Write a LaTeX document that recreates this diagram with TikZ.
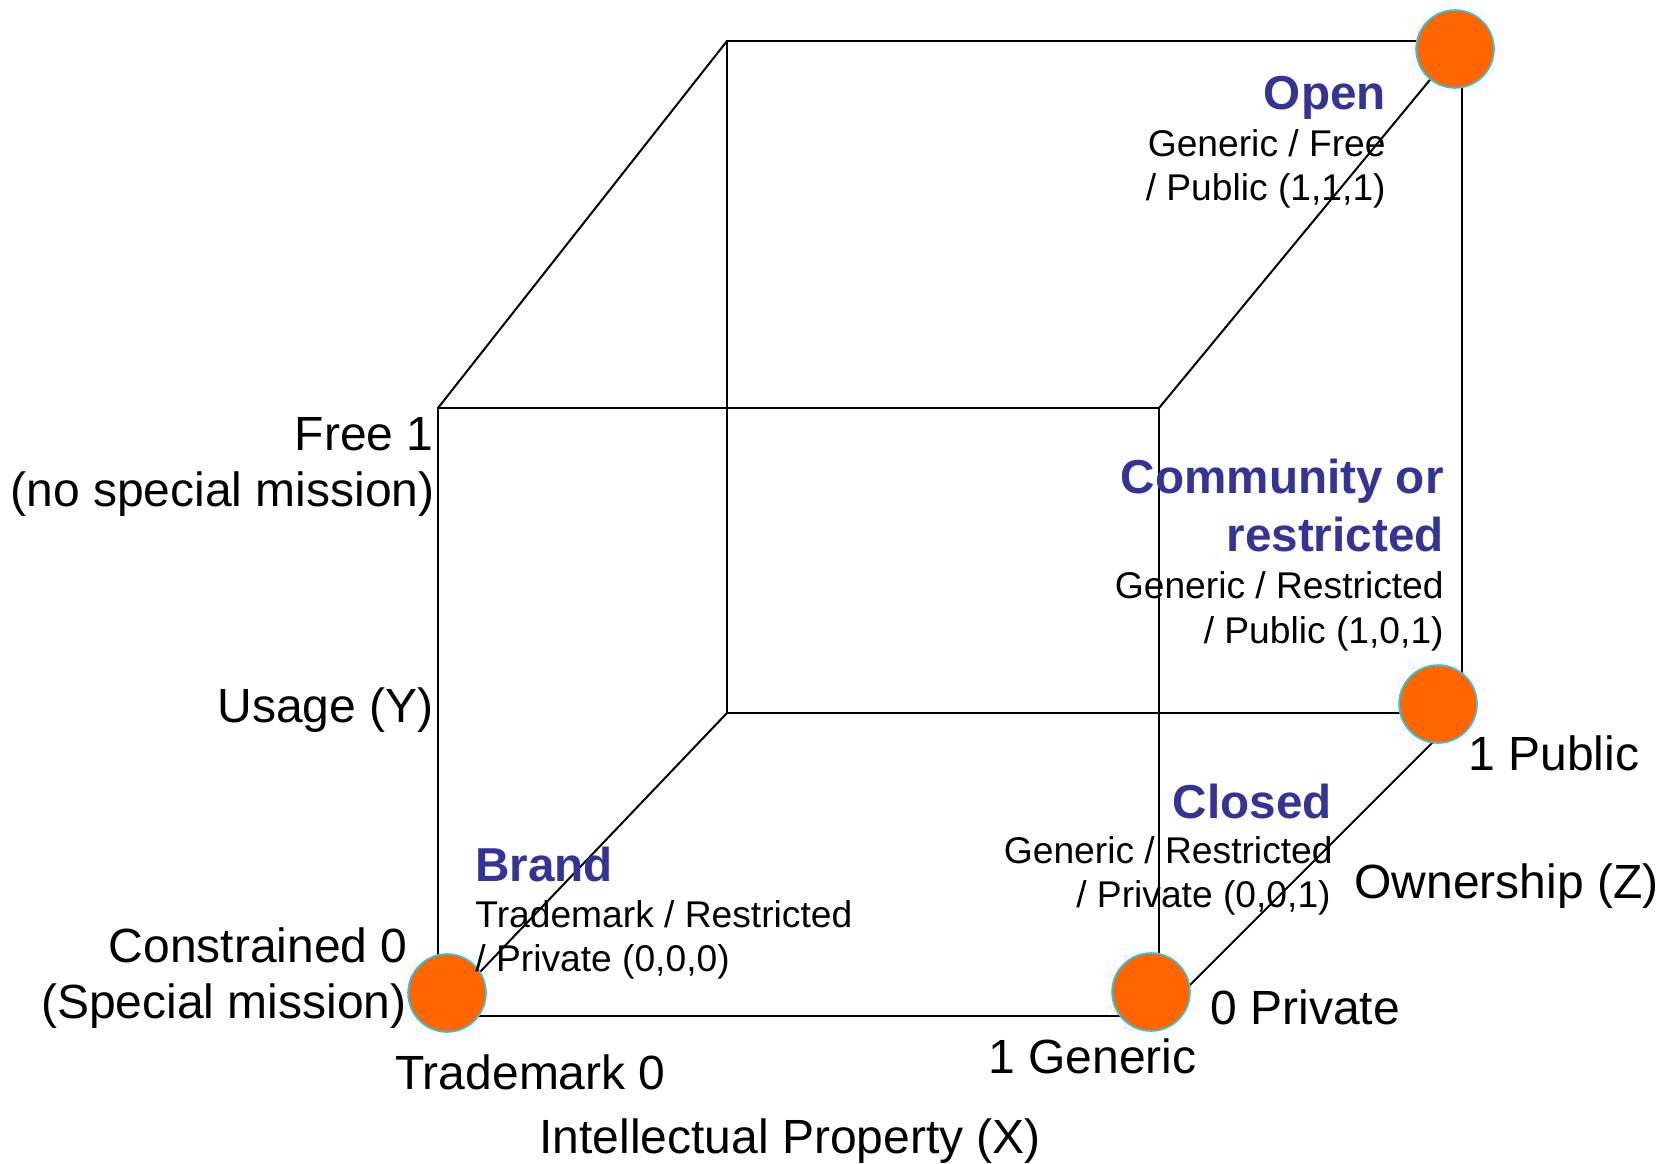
\documentclass[tikz,border=0pt]{standalone}
\usepackage{fontspec}
\setmainfont{Liberation Sans}
\definecolor{dotfill}{HTML}{FF6600}
\definecolor{dotline}{HTML}{22CCF0}
\definecolor{titleblue}{HTML}{333399}
\tikzset{
  edge/.style={line width=1pt, draw=black},
  dot/.style={circle, fill=dotfill, draw=dotline, line width=0.8pt, minimum size=39pt, inner sep=0pt},
  big/.style={font=\fontsize{24}{28}\selectfont, inner sep=0pt},
  small/.style={font=\fontsize{18.6}{22}\selectfont, inner sep=0pt},
  ttl/.style={font=\fontsize{23.8}{28}\selectfont\bfseries, text=titleblue, inner sep=0pt},
}
\begin{document}
\begin{tikzpicture}[x=0.5pt, y=-0.5pt]
\useasboundingbox (0,0) rectangle (1663,1163);
% cube corners
\coordinate (btl) at (727,41);
\coordinate (btr) at (1462,41);
\coordinate (bbl) at (727,713);
\coordinate (bbr) at (1462,713);
\coordinate (ftl) at (438,408);
\coordinate (ftr) at (1159,408);
\coordinate (fbl) at (438,1016);
\coordinate (fbr) at (1159,1016);
% back face
\draw[edge] (btl) -- (btr) -- (bbr) -- (bbl) -- cycle;
% front face
\draw[edge] (ftl) -- (ftr) -- (fbr) -- (fbl) -- cycle;
% depth edges
\draw[edge] (btl) -- (ftl);
\draw[edge] (btr) -- (ftr);
\draw[edge] (bbl) -- (fbl);
\draw[edge] (bbr) -- (fbr);
% dots
\node[dot] (open) at (1455,49) {};
\node[dot] (comm) at (1438,704) {};
\node[dot] (closed) at (1151,992) {};
\node[dot] (brand) at (447,993) {};
% axis labels
\node[big, anchor=base east] (free1) at (434,450) {Free 1};
\node[big, anchor=base east] (nospec) at (435,506) {(no special mission)};
\node[big, anchor=base east] (usage) at (434,722) {Usage (Y)};
\node[big, anchor=base east] (constr) at (408,962) {Constrained 0};
\node[big, anchor=base east] (spec) at (407,1018) {(Special mission)};
\node[big, anchor=base west] (tm0) at (395,1089) {Trademark 0};
\node[big, anchor=base west] (ipx) at (539,1153) {Intellectual Property (X)};
\node[big, anchor=base west] (gen1) at (988,1073) {1 Generic};
\node[big, anchor=base west] (priv0) at (1210,1024) {0 Private};
\node[big, anchor=base west] (ownz) at (1354,898) {Ownership (Z)};
\node[big, anchor=base west] (pub1) at (1468,770) {1 Public};
% Open
\node[ttl, anchor=base east] (topen) at (1386,109) {Open};
\node[small, anchor=base east] (open1) at (1386,156) {Generic / Free};
\node[small, anchor=base east] (open2) at (1386,200) {/ Public (1,1,1)};
% Community
\node[ttl, anchor=base east] (tcomm1) at (1444,493) {Community or};
\node[ttl, anchor=base east] (tcomm2) at (1444,551) {restricted};
\node[small, anchor=base east] (comm1) at (1444,598) {Generic / Restricted};
\node[small, anchor=base east] (comm2) at (1444,643) {/ Public (1,0,1)};
% Closed
\node[ttl, anchor=base east] (tclosed) at (1332,818) {Closed};
\node[small, anchor=base east] (closed1) at (1333,863) {Generic / Restricted};
\node[small, anchor=base east] (closed2) at (1331,907) {/ Private (0,0,1)};
% Brand
\node[ttl, anchor=base west] (tbrand) at (475,881) {Brand};
\node[small, anchor=base west] (brand1) at (475,927) {Trademark / Restricted};
\node[small, anchor=base west] (brand2) at (475,971) {/ Private (0,0,0)};
\end{tikzpicture}
\end{document}
